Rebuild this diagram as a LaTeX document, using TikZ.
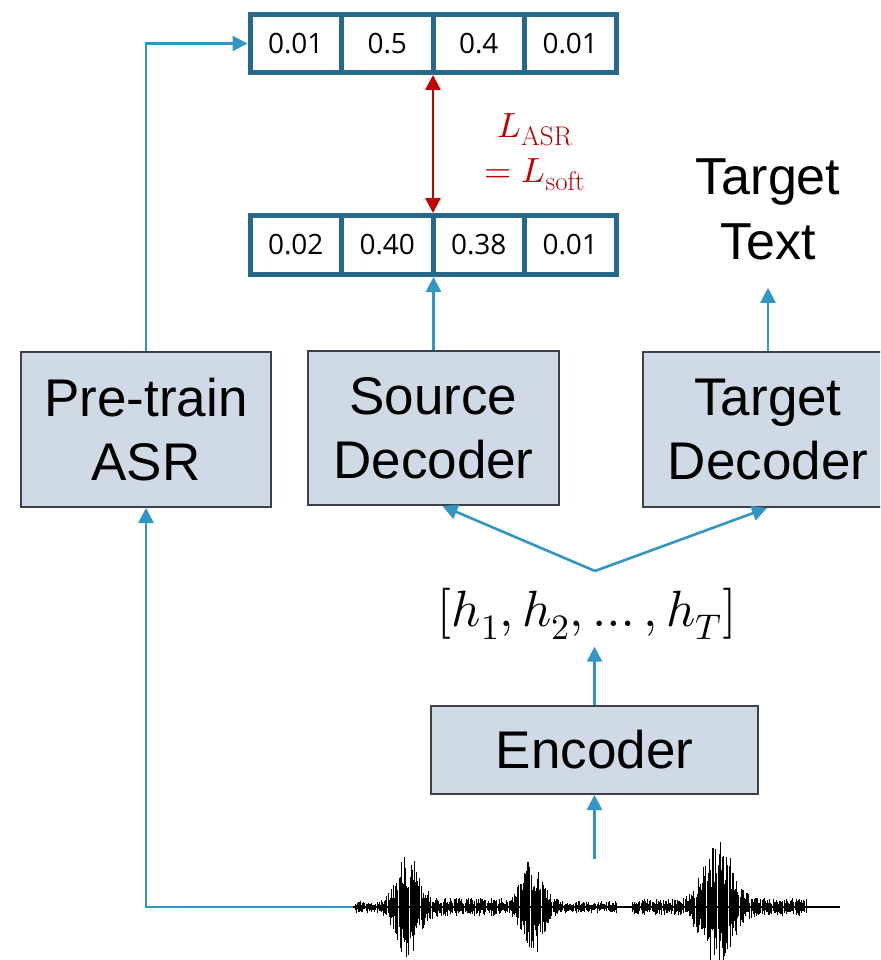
\documentclass[tikz,border=0pt]{standalone}
\usepackage{fontspec}
\usepackage{unicode-math}
\usetikzlibrary{arrows.meta,calc}
\newfontfamily\labelfont{Liberation Sans}
\newfontfamily\cellfont{Open Sans}
\definecolor{boxfill}{HTML}{CFDAE6}
\definecolor{boxline}{HTML}{3F3F4E}
\definecolor{flow}{HTML}{3196C3}
\definecolor{vecline}{HTML}{27698A}
\definecolor{lossred}{HTML}{C00000}
% upright subscript set a little larger than the default script size
\newcommand{\lsub}[1]{\mbox{\rmfamily\fontsize{27}{28}\selectfont #1}}

\begin{document}
\begin{tikzpicture}[x=1pt,y=-1pt,
  block/.style={draw=boxline, line width=2pt, fill=boxfill, align=center,
    inner sep=0pt, font=\labelfont\fontsize{53}{64}\selectfont},
  cell/.style={draw=vecline, line width=5pt, minimum width=91.5pt,
    inner sep=0pt, font=\cellfont\fontsize{28}{30}\selectfont},
  flowarrow/.style={draw=flow, line width=2.6pt,
    -{Triangle[width=15pt,length=15pt]}},
  lossarrow/.style={draw=lossred, line width=2.6pt,
    {Triangle[width=15pt,length=15pt]}-{Triangle[width=15pt,length=15pt]}}
]
\useasboundingbox (0,0) rectangle (880,960);
\clip (0,0) rectangle (880,960);

% probability vectors
\foreach \v [count=\i] in {0.01,0.5,0.4,0.01}
  \node[cell, minimum height=58pt] (t\i) at ({250+91.5*(\i-0.5)},43.5) {\v};
\foreach \v [count=\i] in {0.02,0.40,0.38,0.01}
  \node[cell, minimum height=59pt] (b\i) at ({250+91.5*(\i-0.5)},245) {\v};

% model blocks
\node[block, minimum width=250pt, minimum height=155pt] (asr) at (146,429.5) {Pre-train\\ASR};
\node[block, minimum width=251pt, minimum height=154pt] (src) at (433.5,428) {Source\\Decoder};
\node[block, minimum width=250pt, minimum height=155pt] (tgt) at (768,429.5) {Target\\Decoder};
\node[block, minimum width=327pt, minimum height=88pt] (enc) at (594.5,750) {Encoder};

% free texts
\node[font=\labelfont\fontsize{52}{65}\selectfont, align=center, inner sep=0pt] (tt) at (768,209) {Target\\Text};
\node[font=\fontsize{51}{56}\selectfont, inner sep=0pt] (hs) at (587,614) {$[h_1, h_2, \ldots, h_T]$};
\node[text=lossred, align=center, inner sep=0pt, font=\fontsize{35}{45}\selectfont] (loss) at (535,152)
  {$L_{\lsub{ASR}}$\\$=L_{\lsub{soft}}$};

% speech waveform
\coordinate (wavestart) at (353,907);
\coordinate (wavetop) at (594.5,859);
\coordinate (split) at (595,571);
\pgfmathsetseed{42}
\draw[black, line width=1.3pt] (wavestart) -- (840,907);
\foreach \x in {355,356.1,...,808} {
  \pgfmathsetmacro\env{48*exp(-min(((\x-408)/15)^2,30))
    + 46*exp(-min(((\x-533)/14)^2,30))
    + 62*exp(-min(((\x-718)/19)^2,30))
    + 6*(\x<617) + 3*(\x>427)*(\x<502)
    + 8*(\x>632)*(\x<700) + 9*(\x>700)*(\x<807)}
  \pgfmathsetmacro\up{\env*(0.3+0.7*rnd)}
  \pgfmathsetmacro\dn{\env*(0.3+0.7*rnd)}
  \draw[black, line width=1pt] (\x,907-\up) -- (\x,907+\dn);
}

% connectors
\draw[flowarrow] (wavestart) -| (asr.south);
\draw[flowarrow] (asr.north) |- (t1.west);
\draw[lossarrow] ($(t2.south east)!0.5!(t3.south west)$) -- ($(b2.north east)!0.5!(b3.north west)$);
\draw[flowarrow] (src.north) -- (src.north |- b2.south);
\draw[flowarrow] (tgt.north) -- ($(tt.south)+(0,28)$);
\draw[flowarrow] (wavetop) -- (enc.south);
\draw[flowarrow, shorten >=7pt] (enc.north) -- (enc.north |- hs.south);
\draw[flowarrow] (split) -- ($(src.south)+(9,0)$);
\draw[flowarrow] (split) -- ($(tgt.south)+(-1,0)$);
\end{tikzpicture}
\end{document}
